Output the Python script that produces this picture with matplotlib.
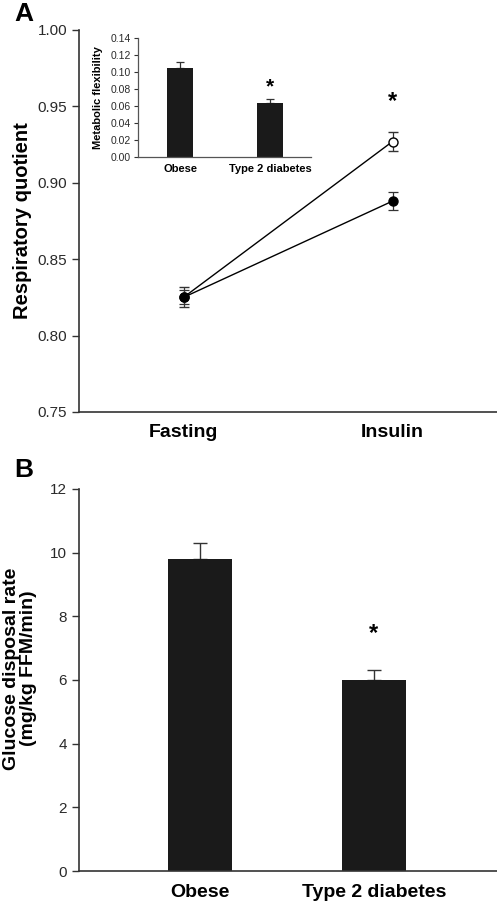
import matplotlib.pyplot as plt
import numpy as np

plt.rcParams['font.family'] = ['Liberation Sans', 'DejaVu Sans']

# Panel A: respiratory quotient
conditions = ["Fasting", "Insulin"]
rq_obese = [0.825, 0.927]
rq_obese_err = [0.0065, 0.006]
rq_t2d = [0.825, 0.888]
rq_t2d_err = [0.0045, 0.006]

# Inset: metabolic flexibility
groups = ["Obese", "Type 2 diabetes"]
flex = [0.1047, 0.0635]
flex_err = [0.007, 0.005]

# Panel B: glucose disposal rate
gdr = [9.8, 6.0]
gdr_err = [0.5, 0.3]

axis_col = '#333333'
bar_col = '#1a1a1a'

fig = plt.figure(figsize=(4.97, 9.06), dpi=100)

# ---- Panel A ----
ax = fig.add_axes([0.159, 0.5453, 0.841, 0.4216])
x = np.arange(len(conditions))
ax.errorbar(x, rq_obese, yerr=rq_obese_err, color='black', lw=1.0, marker='o',
            ms=6.5, mfc='white', mec='black', mew=1.0, ecolor=axis_col,
            elinewidth=0.9, capsize=3.5, capthick=0.9, zorder=3)
ax.errorbar(x, rq_t2d, yerr=rq_t2d_err, color='black', lw=1.0, marker='o',
            ms=6.5, mfc='black', mec='black', ecolor=axis_col,
            elinewidth=0.9, capsize=3.5, capthick=0.9, zorder=4)
ax.text(1, rq_obese[1] + rq_obese_err[1] + 0.02, '*', ha='center', va='center',
        fontsize=17, fontweight='bold')
ax.set_xlim(-0.5, 1.5)
ax.set_ylim(0.75, 1.00)
yt = [0.75, 0.80, 0.85, 0.90, 0.95, 1.00]
ax.set_yticks(yt)
ax.set_yticklabels([f"{v:.2f}" for v in yt])
ax.set_xticks(x)
ax.set_xticklabels(conditions, fontsize=14, fontweight='bold')
ax.tick_params(axis='x', length=0, pad=9)
ax.tick_params(axis='y', labelsize=11, length=5, width=1, color=axis_col, labelcolor='#2a2a2a')
ax.set_ylabel("Respiratory quotient", fontsize=14.5, fontweight='bold')
ax.yaxis.set_label_coords(-0.112, 0.5)
for s in ['top', 'right']:
    ax.spines[s].set_visible(False)
for s in ['left', 'bottom']:
    ax.spines[s].set_color(axis_col)
    ax.spines[s].set_linewidth(1.2)
fig.text(0.028, 0.985, 'A', fontsize=19, fontweight='bold', va='center')

# ---- Inset ----
ins = fig.add_axes([0.2777, 0.8267, 0.348, 0.1313])
xi = np.arange(len(groups))
ins.bar(xi, flex, width=0.28, color=bar_col, zorder=2)
ins.errorbar(xi, flex, yerr=[[0, 0], flex_err], fmt='none', ecolor=axis_col,
             elinewidth=0.9, capsize=3, capthick=0.9, zorder=1)
ins.text(1, flex[1] + flex_err[1] + 0.014, '*', ha='center', va='center',
         fontsize=15, fontweight='bold')
ins.set_xlim(-0.467, 1.456)
ins.set_ylim(0, 0.14)
it = np.arange(0, 0.141, 0.02)
ins.set_yticks(it)
ins.set_yticklabels([f"{v:.2f}" for v in it])
ins.set_xticks(xi)
ins.set_xticklabels(groups, fontsize=8, fontweight='bold')
ins.tick_params(axis='x', length=0, pad=5)
ins.tick_params(axis='y', labelsize=7.5, length=3, width=0.8, color=axis_col,
                labelcolor='#2a2a2a', pad=2)
ins.set_ylabel("Metabolic flexibility", fontsize=8, fontweight='bold')
ins.yaxis.set_label_coords(-0.2, 0.5)
for s in ['top', 'right']:
    ins.spines[s].set_visible(False)
for s in ['left', 'bottom']:
    ins.spines[s].set_color('#555555')
    ins.spines[s].set_linewidth(0.9)

# ---- Panel B ----
bx = fig.add_axes([0.159, 0.0386, 0.841, 0.4217])
xb = np.arange(len(groups))
bx.bar(xb, gdr, width=0.37, color=bar_col, zorder=2)
bx.errorbar(xb, gdr, yerr=[[0, 0], gdr_err], fmt='none', ecolor=axis_col,
            elinewidth=1.0, capsize=5, capthick=1.0, zorder=1)
bx.text(1, gdr[1] + gdr_err[1] + 1.15, '*', ha='center', va='center',
        fontsize=17, fontweight='bold')
bx.set_xlim(-0.695, 1.707)
bx.set_ylim(0, 12)
bx.set_yticks(np.arange(0, 13, 2))
bx.set_xticks(xb)
bx.set_xticklabels(groups, fontsize=14, fontweight='bold')
bx.tick_params(axis='x', length=0, pad=9)
bx.tick_params(axis='y', labelsize=11, length=5, width=1, color=axis_col, labelcolor='#2a2a2a')
bx.set_ylabel("Glucose disposal rate\n(mg/kg FFM/min)", fontsize=14,
              fontweight='bold', linespacing=1.0)
bx.yaxis.set_label_coords(-0.1, 0.53)
for s in ['top', 'right']:
    bx.spines[s].set_visible(False)
for s in ['left', 'bottom']:
    bx.spines[s].set_color(axis_col)
    bx.spines[s].set_linewidth(1.2)
fig.text(0.028, 0.481, 'B', fontsize=19, fontweight='bold', va='center')

fig.savefig('out.png', dpi=100)
